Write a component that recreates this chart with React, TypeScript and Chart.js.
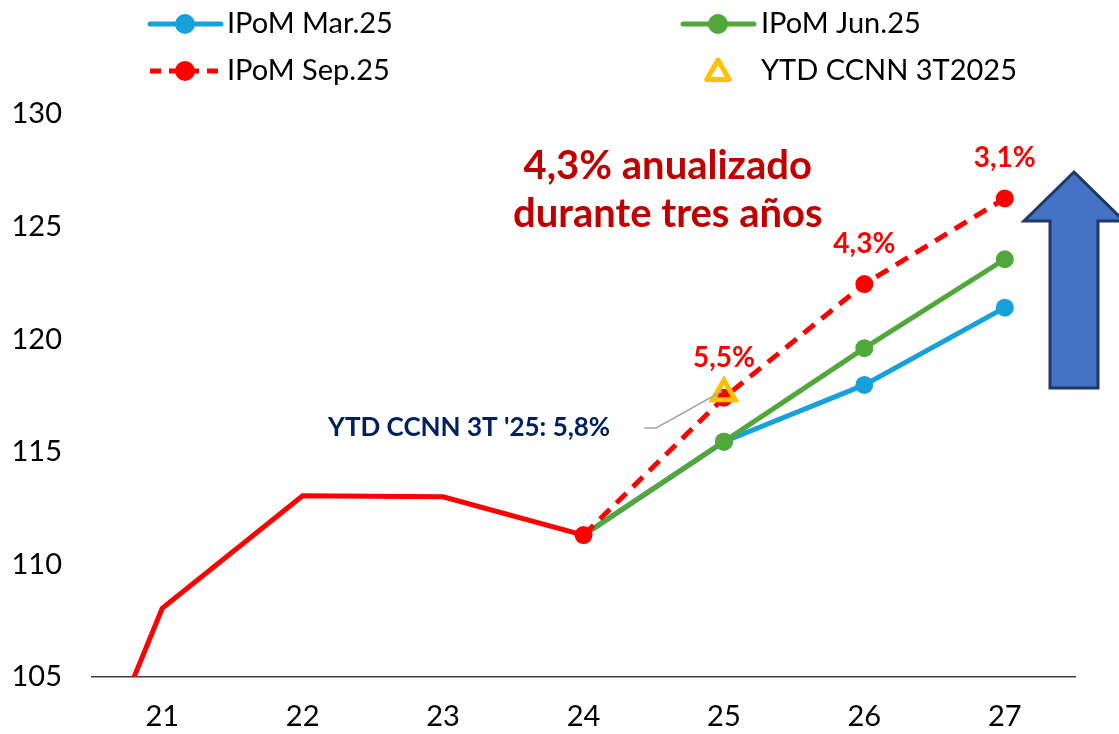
import React, { useEffect, useRef } from 'react';
import { Chart, registerables } from 'chart.js';

Chart.register(...registerables);

// ---- Data ----
const xTicks = [21, 22, 23, 24, 25, 26, 27];
const yTicks = [105, 110, 115, 120, 125, 130];

const histX = [20.8, 21, 22, 23, 24];
const histY = [105, 108.05, 113.05, 113.0, 111.3];

const projX = [24, 25, 26, 27];
const marY = [111.3, 115.45, 117.97, 121.4];
const junY = [111.3, 115.45, 119.6, 123.55];
const sepY = [111.3, 117.4, 122.45, 126.25];
const sepLabels = ['', '5,5%', '4,3%', '3,1%'];

const ytdX = [25];
const ytdY = [117.6];

const seriesNames = ['IPoM Mar.25', 'IPoM Jun.25', 'IPoM Sep.25', 'YTD CCNN 3T2025'];
const headline = ['4,3% anualizado', 'durante tres años'];
const ytdNote = "YTD CCNN 3T '25: 5,8%";

// ---- Styles ----
const FONT = 'Lato, "Open Sans", sans-serif';
const BLUE = '#17A1DA';
const GREEN = '#52A73A';
const RED = '#FF0000';
const DARKRED = '#C00000';
const YELLOW = '#FFC000';
const NAVY = '#002060';

const toPts = (xs: number[], ys: number[]) => xs.map((x, i) => ({ x, y: ys[i] }));

const decorPlugin = {
  id: 'decor',
  afterDatasetsDraw(chart: any) {
    const { ctx } = chart;
    const xs = chart.scales.x;
    const ys = chart.scales.y;
    ctx.save();

    // Sep.25 data labels
    const sepMeta = chart.getDatasetMeta(3);
    ctx.fillStyle = RED;
    ctx.font = `bold 28px ${FONT}`;
    ctx.textAlign = 'center';
    ctx.textBaseline = 'middle';
    sepMeta.data.forEach((pt: any, i: number) => {
      if (!sepLabels[i]) return;
      ctx.fillText(sepLabels[i], pt.x, pt.y - 40);
    });

    // Headline
    ctx.fillStyle = DARKRED;
    ctx.font = `bold 40px ${FONT}`;
    ctx.fillText(headline[0], xs.getPixelForValue(24.6), ys.getPixelForValue(127.7));
    ctx.fillText(headline[1], xs.getPixelForValue(24.6), ys.getPixelForValue(125.55));

    // YTD note + leader line
    const ytdMeta = chart.getDatasetMeta(4);
    const tri = ytdMeta.data[0];
    const noteY = ys.getPixelForValue(116.06);
    const noteRight = xs.getPixelForValue(24.19);
    ctx.strokeStyle = '#A6A6A6';
    ctx.lineWidth = 1.5;
    ctx.beginPath();
    ctx.moveTo(noteRight + 34, noteY);
    ctx.lineTo(noteRight + 46, noteY);
    ctx.lineTo(tri.x - 2, tri.y - 2);
    ctx.stroke();
    ctx.fillStyle = NAVY;
    ctx.font = `bold 26px ${FONT}`;
    ctx.textAlign = 'right';
    ctx.fillText(ytdNote, noteRight, noteY);

    // Big up arrow
    const tipX = 1074, tipY = 172, headY = 221, headHalf = 50, shaftHalf = 24, bottom = 388;
    ctx.beginPath();
    ctx.moveTo(tipX, tipY);
    ctx.lineTo(tipX + headHalf, headY);
    ctx.lineTo(tipX + shaftHalf, headY);
    ctx.lineTo(tipX + shaftHalf, bottom);
    ctx.lineTo(tipX - shaftHalf, bottom);
    ctx.lineTo(tipX - shaftHalf, headY);
    ctx.lineTo(tipX - headHalf, headY);
    ctx.closePath();
    ctx.fillStyle = '#4472C4';
    ctx.fill();
    ctx.strokeStyle = '#1F3864';
    ctx.lineWidth = 3;
    ctx.lineJoin = 'miter';
    ctx.stroke();

    ctx.restore();
  },
  afterDraw(chart: any) {
    const { ctx } = chart;
    ctx.save();
    const rows = [24, 71];
    const cols = [150, 683];
    const items = [
      { col: 0, row: 0, color: BLUE, dash: [] as number[], kind: 'line' },
      { col: 1, row: 0, color: GREEN, dash: [] as number[], kind: 'line' },
      { col: 0, row: 1, color: RED, dash: [11, 8], kind: 'line' },
      { col: 1, row: 1, color: YELLOW, dash: [] as number[], kind: 'tri' },
    ];
    items.forEach((it, i) => {
      const x0 = cols[it.col];
      const y = rows[it.row];
      if (it.kind === 'line') {
        ctx.strokeStyle = it.color;
        ctx.lineWidth = 5;
        ctx.lineCap = it.dash.length ? 'butt' : 'round';
        ctx.setLineDash(it.dash);
        ctx.beginPath();
        ctx.moveTo(x0, y);
        ctx.lineTo(x0 + 71, y);
        ctx.stroke();
        ctx.setLineDash([]);
        ctx.fillStyle = it.color;
        ctx.beginPath();
        ctx.arc(x0 + 35, y, 10, 0, Math.PI * 2);
        ctx.fill();
      } else {
        const cx = x0 + 35, r = 13;
        const cy = y + 2;
        ctx.beginPath();
        ctx.moveTo(cx, cy - r);
        ctx.lineTo(cx + r * 0.866, cy + r / 2);
        ctx.lineTo(cx - r * 0.866, cy + r / 2);
        ctx.closePath();
        ctx.fillStyle = '#FFFFFF';
        ctx.fill();
        ctx.strokeStyle = YELLOW;
        ctx.lineWidth = 5;
        ctx.lineJoin = 'round';
        ctx.stroke();
      }
      ctx.fillStyle = '#000';
      ctx.font = `29px ${FONT}`;
      ctx.textAlign = 'left';
      ctx.textBaseline = 'middle';
      ctx.fillText(seriesNames[i], x0 + (it.col === 0 ? 77 : 78), y);
    });
    ctx.restore();
  },
};

export default function App() {
  const ref = useRef<HTMLCanvasElement>(null);

  useEffect(() => {
    document.body.style.margin = '0';
    const canvas = ref.current!;
    const chart = new Chart(canvas, {
      type: 'line',
      data: {
        datasets: [
          {
            label: 'hist',
            data: toPts(histX, histY),
            borderColor: RED,
            borderWidth: 5,
            pointRadius: 0,
            tension: 0,
            order: 5,
          },
          {
            label: seriesNames[0],
            data: toPts(projX, marY),
            borderColor: BLUE,
            backgroundColor: BLUE,
            borderWidth: 5,
            pointRadius: [0, 9, 9, 9],
            pointBorderWidth: 0,
            order: 4,
          },
          {
            label: seriesNames[1],
            data: toPts(projX, junY),
            borderColor: GREEN,
            backgroundColor: GREEN,
            borderWidth: 5,
            pointRadius: [0, 9, 9, 9],
            pointBorderWidth: 0,
            order: 3,
          },
          {
            label: seriesNames[2],
            data: toPts(projX, sepY),
            borderColor: RED,
            backgroundColor: RED,
            borderWidth: 5,
            borderDash: [14, 9],
            pointRadius: 9,
            pointBorderWidth: 0,
            order: 2,
          },
          {
            label: seriesNames[3],
            data: toPts(ytdX, ytdY),
            showLine: false,
            pointStyle: 'triangle',
            pointRadius: 13,
            pointBorderWidth: 5,
            borderColor: YELLOW,
            backgroundColor: 'rgba(0,0,0,0)',
            order: 1,
          },
        ],
      },
      options: {
        responsive: false,
        animation: false,
        devicePixelRatio: 1,
        layout: { padding: { top: 114, right: 44, left: 0, bottom: 0 } },
        plugins: { legend: { display: false }, tooltip: { enabled: false } },
        scales: {
          x: {
            type: 'linear',
            min: 20.5,
            max: 27.5,
            afterBuildTicks: (s: any) => {
              s.ticks = xTicks.map((v) => ({ value: v }));
            },
            afterFit: (s: any) => {
              s.height = 57;
            },
            grid: { display: true, drawOnChartArea: false, drawTicks: false },
            border: { display: true, color: '#404040', width: 1.5 },
            ticks: {
              color: '#000',
              padding: 22,
              font: { family: FONT, size: 29 },
              callback: (v: any) => String(v),
            },
          },
          y: {
            min: 105,
            max: 130,
            afterBuildTicks: (s: any) => {
              s.ticks = yTicks.map((v) => ({ value: v }));
            },
            afterFit: (s: any) => {
              s.width = 92;
            },
            grid: { display: false, drawTicks: false },
            border: { display: false },
            ticks: {
              color: '#000',
              padding: 30,
              font: { family: FONT, size: 29 },
            },
          },
        },
      },
      plugins: [decorPlugin],
    });
    return () => chart.destroy();
  }, []);

  return (
    <div style={{ width: 1119, height: 734 }}>
      <canvas ref={ref} width={1119} height={734} style={{ display: 'block' }} />
    </div>
  );
}
